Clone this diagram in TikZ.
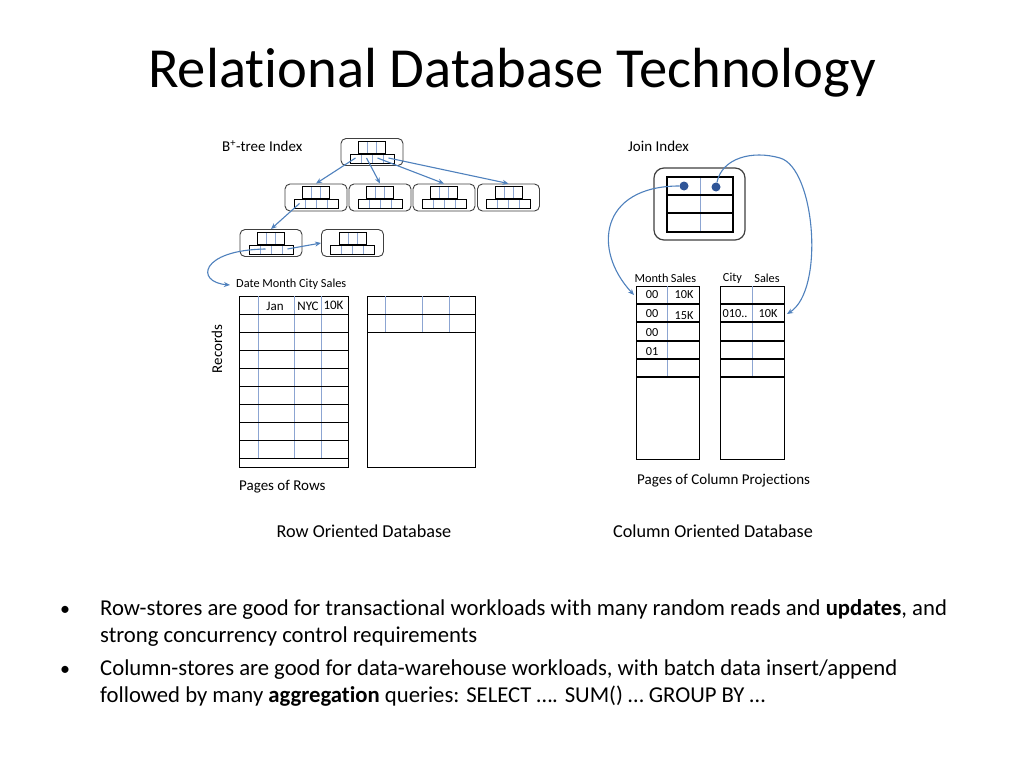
\documentclass[tikz,border=0pt]{standalone}
\usepackage{fontspec}
\setmainfont{Carlito}[Ligatures=CommonOff]
\usetikzlibrary{arrows.meta}

\definecolor{linkblue}{RGB}{79,129,189}
\definecolor{gridblue}{RGB}{140,165,210}
\definecolor{dotblue}{RGB}{47,85,151}

\tikzset{
  bnodebox/.style={draw=black!75, line width=0.9pt, rounded corners=5pt, minimum width=62pt, minimum height=27pt, inner sep=0pt},
  keybox/.style={draw, line width=1pt, inner sep=0pt},
  page/.style={draw, line width=1.1pt, inner sep=0pt},
  sep/.style={draw=gridblue, line width=0.9pt},
  rule/.style={line width=1.1pt},
  link/.style={-{Stealth[length=6pt,width=5pt]}, draw=linkblue, line width=1.1pt},
  lbl/.style={inner sep=0pt, font=\fontsize{15}{17}\selectfont},
  head/.style={inner sep=0pt, font=\fontsize{12.3}{14}\selectfont},
  cellt/.style={inner sep=0pt, font=\fontsize{13}{15}\selectfont},
  dbcaption/.style={inner sep=0pt, font=\fontsize{18.2}{21}\selectfont},
  bullet/.style={inner sep=0pt, anchor=base west, font=\fontsize{22.7}{26}\selectfont},
}

\newcommand{\bnode}[3]{%
  \node[bnodebox] (#1) at (#2,#3) {};
  \draw[sep] (#2-4.5,#3-10.5) -- (#2-4.5,#3+1.5);
  \draw[sep] (#2+4.5,#3-10.5) -- (#2+4.5,#3+1.5);
  \foreach \dx in {-11,0,11} \draw[sep] (#2+\dx,#3+1.5) -- (#2+\dx,#3+10.5);
  \node[keybox, minimum width=27pt, minimum height=12pt, anchor=south] (#1t) at (#2,#3+1.5) {};
  \node[keybox, minimum width=44pt, minimum height=9pt, anchor=north] (#1b) at (#2,#3+1.5) {};
  \foreach \k/\dx in {1/-16.5,2/-5.5,3/5.5,4/16.5} \coordinate (#1c\k) at (#2+\dx,#3+6);
}

\begin{document}
\begin{tikzpicture}[x=1pt, y=-1pt]
  \useasboundingbox[fill=white] (0,0) rectangle (1024,768);

  \node[font=\fontsize{56.6}{64}\selectfont, anchor=base, inner sep=0pt] (title) at (512,87) {Relational Database Technology};

  \node[lbl, anchor=west] (btlabel) at (222,146) {B\textsuperscript{+}-tree Index};
  \bnode{root}{372}{152}
  \bnode{na}{316}{197.5}
  \bnode{nb}{380}{197.5}
  \bnode{nc}{444}{197.5}
  \bnode{nd}{508.5}{197.5}
  \bnode{la}{271}{243}
  \bnode{lb}{352.5}{243}
  \draw[link] (rootc1) -- (na.north);
  \draw[link] (rootc2) -- (nb.north);
  \draw[link] (rootc3) -- (nc.north);
  \draw[link] (rootc4) -- (nd.north);
  \draw[link] (nac1) -- (la.north);
  \draw[link] (lac4) -- (lb.west);
  \coordinate (rowin) at (230,285);
  \draw[link] (lac2) .. controls (200,250) and (195,282) .. (rowin);

  \node[head, anchor=west] (rowhead) at (236,284) {Date Month City Sales};
  \node[page, minimum width=109pt, minimum height=171pt, anchor=north west] (rows1) at (239,296) {};
  \foreach \x in {258,294,321} \draw[sep] (\x,296) -- (\x,459);
  \foreach \i in {1,...,9} \draw[rule] (239,296+18.1*\i) -- (348,296+18.1*\i);
  \node[cellt] (jan) at (275,306) {Jan};
  \node[cellt] (nyc) at (308,306) {NYC};
  \node[cellt] (tenk) at (333.5,305) {10K};
  \node[page, minimum width=108pt, minimum height=171pt, anchor=north west] (rows2) at (367,296) {};
  \foreach \x in {385,422,449} \draw[sep] (\x,296) -- (\x,332);
  \foreach \y in {314.1,332.2} \draw[rule] (367,\y) -- (475,\y);
  \node[lbl, rotate=90] (records) at (217,349) {Records};
  \node[lbl, anchor=west] (rowpages) at (239,487) {Pages of Rows};
  \node[dbcaption] (rowdb) at (364,531) {Row Oriented Database};

  \node[lbl, anchor=west] (jlabel) at (628,146) {Join Index};
  \node[bnodebox, line width=1.2pt, minimum width=91pt, minimum height=72pt, rounded corners=10pt] (join) at (699.5,204) {};
  \draw[sep] (700,177) -- (700,232);
  \node[page, minimum width=66pt, minimum height=55pt] (jtab) at (700,204.5) {};
  \foreach \y in {195,213} \draw[rule] (667,\y) -- (733,\y);
  \node[circle, fill=dotblue, minimum size=9pt, inner sep=0pt] (jd1) at (684,186) {};
  \node[circle, fill=dotblue, minimum size=9pt, inner sep=0pt] (jd2) at (716,187) {};

  \node[head] (hmonth) at (651.5,278) {Month};
  \node[head] (hsales1) at (683.5,278) {Sales};
  \node[head] (hcity) at (732.5,278) {City};
  \node[head] (hsales2) at (767,278) {Sales};
  \node[page, minimum width=63pt, minimum height=173pt, anchor=north west] (cols1) at (636,286) {};
  \node[page, minimum width=64pt, minimum height=173pt, anchor=north west] (cols2) at (720,286) {};
  \draw[sep] (667,286) -- (667,377);
  \draw[sep] (752,286) -- (752,377);
  \foreach \y in {304,322,341,359,377} {
    \draw[rule] (636,\y) -- (699,\y);
    \draw[rule] (720,\y) -- (784,\y);
  }
  \node[head] (m1) at (652,295) {00};
  \node[head] (s1) at (684,295) {10K};
  \node[head] (m2) at (652,314) {00};
  \node[head] (s2) at (684,316) {15K};
  \node[head] (m3) at (652,333) {00};
  \node[head] (m4) at (652,352) {01};
  \node[head] (c2) at (735,314) {010..};
  \node[head] (t2) at (768,314) {10K};
  \coordinate (colin1) at (634,295);
  \coordinate (colin2) at (787,314);
  \coordinate (jbend) at (780,158);
  \draw[link] (jd1) .. controls (600,186) and (592,250) .. (colin1);
  \draw[link] (jd2) .. controls (722,158) and (752,150) .. (jbend) .. controls (815,168) and (825,290) .. (colin2);
  \node[lbl, anchor=west] (colpages) at (637,481) {Pages of Column Projections};
  \node[dbcaption] (coldb) at (713,531) {Column Oriented Database};

  \node[bullet, font=\fontsize{20}{24}\selectfont] (b1) at (60,615) {\textbullet};
  \node[bullet] (l1) at (100,615) {Row-stores are good for transactional workloads with many random reads and \textbf{updates}, and};
  \node[bullet] (l2) at (100,642) {strong concurrency control requirements};
  \node[bullet, font=\fontsize{20}{24}\selectfont] (b2) at (60,675) {\textbullet};
  \node[bullet] (l3) at (100,675) {Column-stores are good for data-warehouse workloads, with batch data insert/append};
  \node[bullet] (l4) at (100,702) {followed by many \textbf{aggregation} queries: SELECT …. SUM() … GROUP BY …};
\end{tikzpicture}
\end{document}
